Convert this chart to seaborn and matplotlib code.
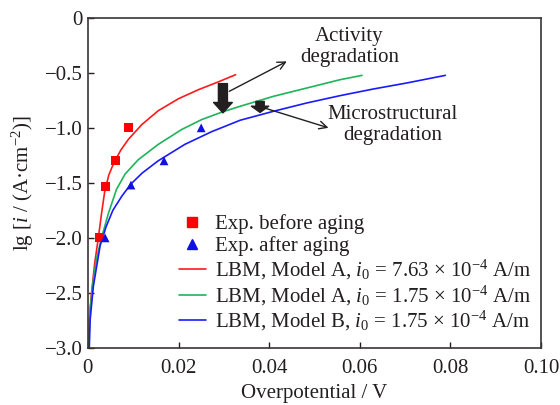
import numpy as np
import pandas as pd
import matplotlib
matplotlib.use("Agg")
import matplotlib.pyplot as plt
import seaborn as sns
from matplotlib.lines import Line2D

# ---------------- data ----------------
exp_before_x = [0.0025, 0.0039, 0.0060, 0.0090]
exp_before_y = [-2.0, -1.53, -1.30, -1.0]
exp_after_x = [0.0038, 0.0095, 0.0168, 0.0250]
exp_after_y = [-2.0, -1.52, -1.30, -1.0]

red_x = [0.0001, 0.0003, 0.0008, 0.0015, 0.0023, 0.0030, 0.0037, 0.0046, 0.0058,
         0.0073, 0.0089, 0.0119, 0.0155, 0.0200, 0.0244, 0.0288, 0.0326]
red_y = [-3.0, -2.75, -2.5, -2.23, -2.0, -1.78, -1.58, -1.43, -1.31,
         -1.20, -1.106, -0.97, -0.845, -0.735, -0.653, -0.582, -0.517]

green_x = [0.0002, 0.0004, 0.0012, 0.0020, 0.0030, 0.0045, 0.0063, 0.0082, 0.0111,
           0.0155, 0.0207, 0.0251, 0.0295, 0.0336, 0.0410, 0.0483, 0.0557, 0.0605]
green_y = [-3.0, -2.68, -2.375, -2.17, -2.0, -1.78, -1.56, -1.42, -1.29,
           -1.151, -1.015, -0.925, -0.858, -0.804, -0.713, -0.638, -0.562, -0.523]

blue_x = [0.0003, 0.0005, 0.0012, 0.0027, 0.0040, 0.0055, 0.0075, 0.0095, 0.0120, 0.0155,
          0.0214, 0.0273, 0.0336, 0.0410, 0.0483, 0.0557, 0.0630, 0.0704, 0.0789]
blue_y = [-3.0, -2.74, -2.44, -2.07, -1.90, -1.75, -1.62, -1.51, -1.41, -1.30,
          -1.15, -1.035, -0.931, -0.849, -0.774, -0.707, -0.647, -0.592, -0.523]

x_ticks = [0, 0.02, 0.04, 0.06, 0.08, 0.10]
x_ticklabels = ["0", "0.02", "0.04", "0.06", "0.08", "0.10"]
y_ticks = [0, -0.5, -1.0, -1.5, -2.0, -2.5, -3.0]
y_ticklabels = ["0", "\u22120.5", "\u22121.0", "\u22121.5", "\u22122.0", "\u22122.5", "\u22123.0"]

labels = [
    "Exp. before aging",
    "Exp. after aging",
    r"LBM, Model A, $\mathit{i}_0$ = 7.63 × 10$^{\mathrm{-4}}$ A/m",
    r"LBM, Model A, $\mathit{i}_0$ = 1.75 × 10$^{\mathrm{-4}}$ A/m",
    r"LBM, Model B, $\mathit{i}_0$ = 1.75 × 10$^{\mathrm{-4}}$ A/m",
]

# ---------------- style ----------------
sns.set_style("ticks")
plt.rcParams["font.family"] = ["Liberation Serif", "DejaVu Serif"]
plt.rcParams["mathtext.fontset"] = "custom"
plt.rcParams["mathtext.rm"] = "Liberation Serif"
plt.rcParams["mathtext.it"] = "Liberation Serif:italic"
plt.rcParams["axes.unicode_minus"] = True
TXT = "#231f20"
FS = 15

fig = plt.figure(figsize=(5.6, 4.05), dpi=100)
ax = fig.add_axes([0.157, 0.141, 0.809, 0.815])

line_df = pd.concat([
    pd.DataFrame({"x": red_x, "y": red_y, "s": labels[2]}),
    pd.DataFrame({"x": green_x, "y": green_y, "s": labels[3]}),
    pd.DataFrame({"x": blue_x, "y": blue_y, "s": labels[4]}),
])
palette = {labels[2]: "#ff1a1a", labels[3]: "#1fb35a", labels[4]: "#1a1aff"}
sns.lineplot(data=line_df, x="x", y="y", hue="s", palette=palette, sort=False,
             estimator=None, lw=1.2, ax=ax, legend=False)

sns.scatterplot(x=exp_before_x, y=exp_before_y, marker="s", color="#ff0000",
                s=42, edgecolor="none", ax=ax, zorder=5)
sns.scatterplot(x=exp_after_x, y=exp_after_y, marker="^", color="#1010e0",
                s=40, edgecolor="none", ax=ax, zorder=5)

ax.set_xlim(0, 0.10)
ax.set_ylim(-3.0, 0)
ax.set_xticks(x_ticks)
ax.set_xticklabels(x_ticklabels)
ax.set_yticks(y_ticks)
ax.set_yticklabels(y_ticklabels)
ax.tick_params(direction="in", length=4, width=1, colors=TXT, labelsize=FS,
               labelcolor=TXT)
ax.tick_params(axis="x", pad=8)
ax.tick_params(axis="y", pad=4)
for sp in ax.spines.values():
    sp.set_color("#3a3536")
    sp.set_linewidth(1.2)

ax.set_xlabel("Overpotential / V", fontsize=FS, color=TXT, labelpad=4)
ax.set_ylabel(r"lg [$\mathit{i}$ / (A·cm$^{\mathrm{-2}}$)]", fontsize=FS, color=TXT, labelpad=6)

# legend
handles = [
    Line2D([], [], marker="s", ls="none", color="#ff0000", markersize=6.5),
    Line2D([], [], marker="^", ls="none", color="#1010e0", markersize=6.5),
    Line2D([], [], color=palette[labels[2]], lw=1.2),
    Line2D([], [], color=palette[labels[3]], lw=1.2),
    Line2D([], [], color=palette[labels[4]], lw=1.2),
]
ax.legend(handles, labels, loc="lower right", bbox_to_anchor=(1.012, 0.0),
          frameon=False, fontsize=FS, handlelength=1.3, handletextpad=0.45,
          labelspacing=0.08, borderaxespad=0.3, labelcolor=TXT)

# annotations: block arrows
ax.annotate("", xy=(0.0298, -0.864), xytext=(0.0298, -0.598),
            arrowprops=dict(width=6.5, headwidth=13.5, headlength=7.5,
                            facecolor="#231f20", edgecolor="#231f20", shrink=0))
ax.annotate("", xy=(0.0380, -0.86), xytext=(0.0380, -0.76),
            arrowprops=dict(width=6.0, headwidth=12.5, headlength=4.5,
                            facecolor="#231f20", edgecolor="#231f20", shrink=0))
# thin arrows
ax.annotate("", xy=(0.0439, -0.396), xytext=(0.0312, -0.668),
            arrowprops=dict(arrowstyle="->", color=TXT, lw=1.0,
                            mutation_scale=14, shrinkA=0, shrinkB=0))
ax.annotate("", xy=(0.0531, -1.0), xytext=(0.0390, -0.82),
            arrowprops=dict(arrowstyle="->", color=TXT, lw=1.0,
                            mutation_scale=14, shrinkA=0, shrinkB=0))

ax.text(0.0577, -0.267, "Activity\ndegradation", ha="center", va="center",
        fontsize=FS, color=TXT, linespacing=1.1)
ax.text(0.0672, -0.975, "Microstructural\ndegradation", ha="center", va="center",
        fontsize=FS, color=TXT, linespacing=1.1)

fig.savefig("out.png", dpi=100)
